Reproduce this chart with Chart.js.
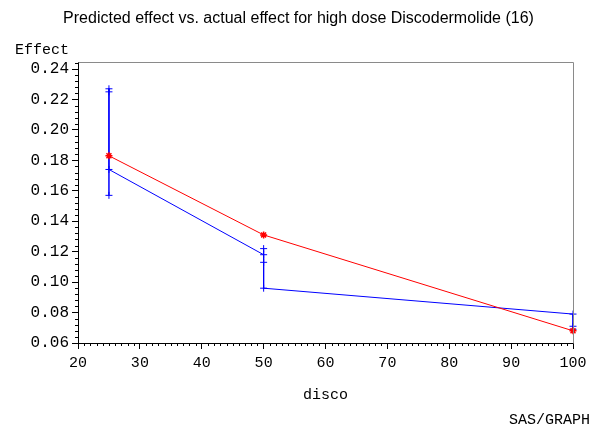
<!DOCTYPE html>
<html>
<head>
<meta charset="utf-8">
<script src="https://cdn.jsdelivr.net/npm/chart.js@4/dist/chart.umd.min.js"></script>
<style>
  html, body { margin: 0; padding: 0; background: #fff; }
  #wrap { width: 597px; height: 434px; position: relative; }
</style>
</head>
<body>
<div id="wrap"><canvas id="c" width="597" height="434"></canvas></div>
<script>
// ---- data ----
const actualDose = [25, 25, 25, 25, 50, 50, 50, 50, 100, 100, 100];
const actualEffect = [0.227, 0.225, 0.157, 0.174, 0.118, 0.122, 0.113, 0.096, 0.079, 0.071, 0.069];
const predDose = [25, 50, 100];
const predEffect = [0.183, 0.131, 0.068];
const xTicks = [20, 30, 40, 50, 60, 70, 80, 90, 100];
const yTicks = [0.06, 0.08, 0.10, 0.12, 0.14, 0.16, 0.18, 0.20, 0.22, 0.24];

const monoFont = "'Liberation Mono', 'DejaVu Sans Mono', monospace";

const toPts = (xs, ys) => xs.map((x, i) => ({ x: x, y: ys[i] }));

const extras = {
  id: 'extras',
  afterDraw(chart) {
    const ctx = chart.ctx;
    const a = chart.chartArea;
    const xs = chart.scales.x, ys = chart.scales.y;
    ctx.save();
    // frame (top and right)
    ctx.strokeStyle = '#8a8a8a';
    ctx.lineWidth = 1;
    ctx.beginPath();
    ctx.moveTo(Math.round(a.left) + 0.5, Math.round(a.top) + 0.5);
    ctx.lineTo(Math.round(a.right) + 0.5, Math.round(a.top) + 0.5);
    ctx.lineTo(Math.round(a.right) + 0.5, Math.round(a.bottom) + 0.5);
    ctx.stroke();
    // minor ticks
    ctx.strokeStyle = '#000';
    ctx.beginPath();
    for (let v = xs.min + 1; v < xs.max; v += 1) {
      if (Math.abs(v % 10) < 1e-9) continue;
      const px = Math.round(xs.getPixelForValue(v)) + 0.5;
      ctx.moveTo(px, a.bottom);
      ctx.lineTo(px, a.bottom + 3);
    }
    for (let k = 1; ; k++) {
      const v = ys.min + k * 0.004;
      if (v > ys.max + 1e-9) break;
      if (Math.abs((k % 5)) === 0) continue;
      const py = Math.round(ys.getPixelForValue(v)) + 0.5;
      ctx.moveTo(a.left, py);
      ctx.lineTo(a.left - 3, py);
    }
    ctx.stroke();
    // y axis label at top-left
    ctx.fillStyle = '#000';
    ctx.font = "15px " + monoFont;
    ctx.textAlign = 'right';
    ctx.textBaseline = 'middle';
    ctx.fillText('Effect', 69, 50);
    // footnote
    ctx.fillText('SAS/GRAPH', 590, 420);
    ctx.restore();
  }
};

new Chart(document.getElementById('c'), {
  type: 'line',
  data: {
    datasets: [
      {
        label: 'Predicted',
        data: toPts(predDose, predEffect),
        borderColor: '#ff0000',
        backgroundColor: '#ff0000',
        borderWidth: 1,
        pointStyle: 'star',
        pointRadius: 3.5,
        pointBorderWidth: 1.5,
        pointBorderColor: '#ff0000',
        tension: 0,
        fill: false
      },
      {
        label: 'Actual',
        data: toPts(actualDose, actualEffect),
        borderColor: '#0000ff',
        backgroundColor: '#0000ff',
        borderWidth: 1,
        pointStyle: 'cross',
        pointRadius: 3.5,
        pointBorderWidth: 1,
        pointBorderColor: '#0000ff',
        tension: 0,
        fill: false
      }
    ]
  },
  options: {
    responsive: false,
    animation: false,
    clip: false,
    layout: { padding: { top: 0, left: 0, right: 0, bottom: 24 } },
    plugins: {
      legend: { display: false },
      tooltip: { enabled: false },
      title: {
        display: true,
        text: 'Predicted effect vs. actual effect for high dose Discodermolide (16)',
        color: '#000',
        font: { family: "'Liberation Sans', Arial, sans-serif", size: 16, weight: 'normal', lineHeight: 1.2 },
        padding: { top: 8.5, bottom: 34.3 }
      }
    },
    scales: {
      x: {
        type: 'linear',
        position: 'bottom',
        min: 20,
        max: 100,
        afterBuildTicks: s => { s.ticks = xTicks.map(v => ({ value: v })); },
        afterFit: s => { s.height = 67; s.paddingRight = 24; },
        ticks: {
          color: '#000',
          font: { family: monoFont, size: 15 },
          padding: 5,
          maxRotation: 0,
          autoSkip: false,
          callback: v => String(v)
        },
        grid: { drawOnChartArea: false, drawTicks: true, tickLength: 6, color: '#000' },
        border: { display: true, color: '#000', width: 1 },
        title: {
          display: true,
          text: 'disco',
          color: '#000',
          font: { family: monoFont, size: 15, lineHeight: 1.2 },
          padding: { top: 0, bottom: 6 }
        }
      },
      y: {
        type: 'linear',
        min: 0.06,
        max: 0.2446,
        afterBuildTicks: s => { s.ticks = yTicks.map(v => ({ value: v })); },
        afterFit: s => { s.width = 78; },
        ticks: {
          color: '#000',
          font: { family: monoFont, size: 16 },
          padding: 3,
          autoSkip: false,
          callback: v => Number(v).toFixed(2)
        },
        grid: { drawOnChartArea: false, drawTicks: true, tickLength: 6, color: '#000' },
        border: { display: true, color: '#000', width: 1 }
      }
    }
  },
  plugins: [extras]
});
</script>
</body>
</html>
